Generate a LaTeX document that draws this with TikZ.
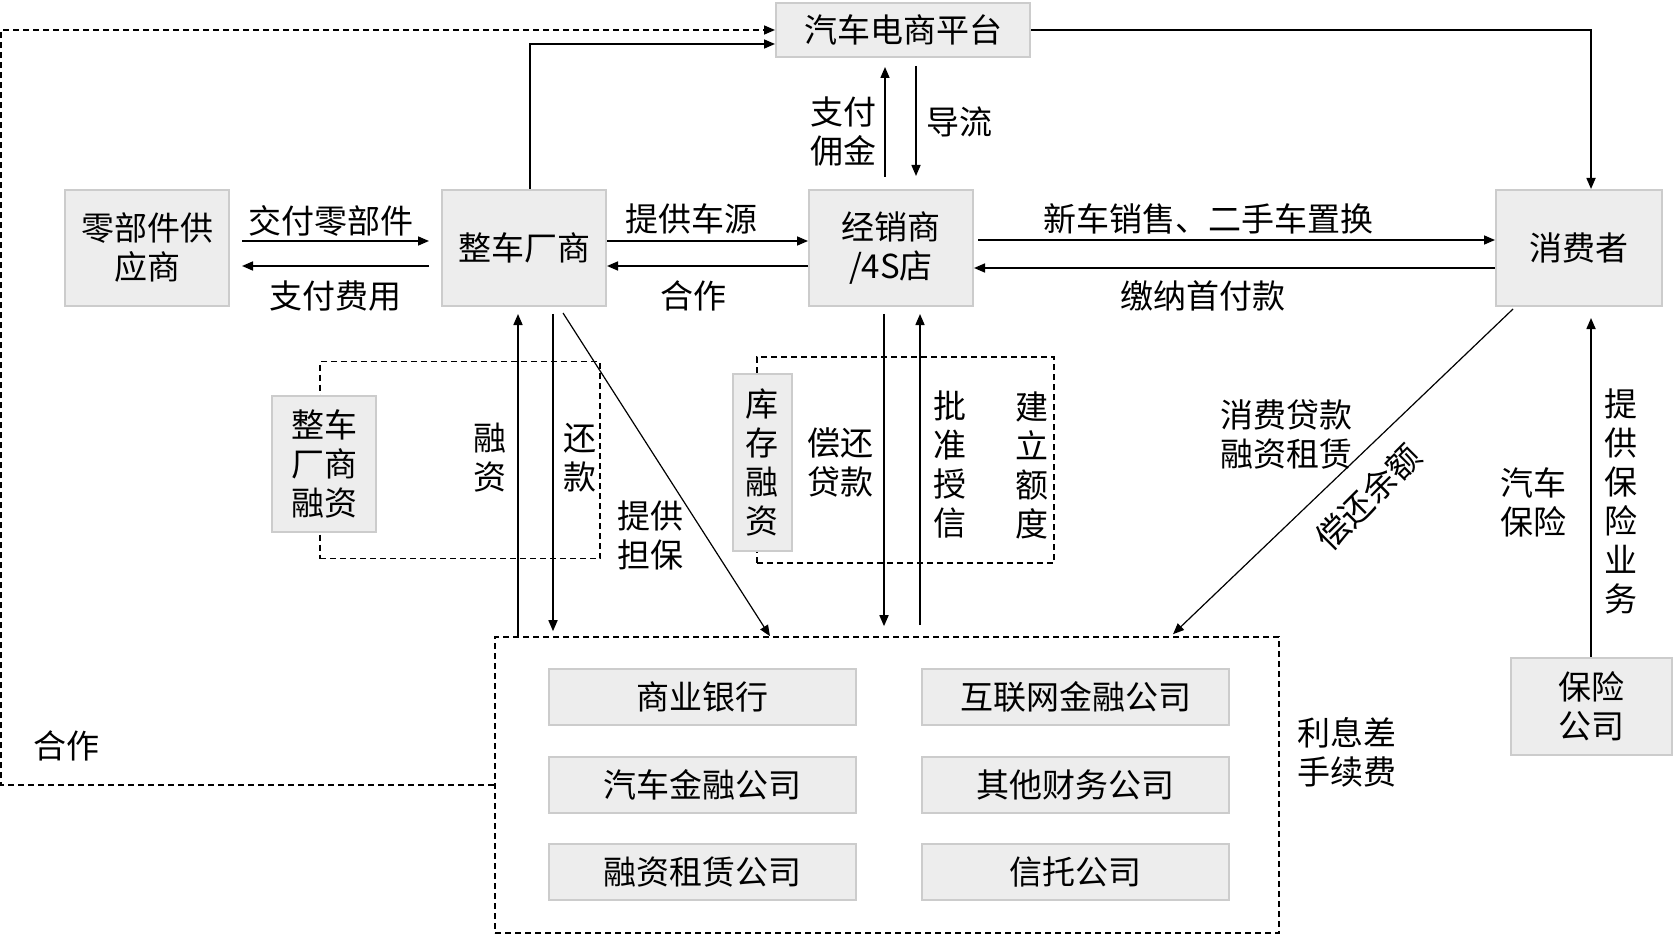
\documentclass[tikz,border=0pt]{standalone}
\usepackage{fontspec}
\setmainfont{Noto Sans CJK SC}
\usetikzlibrary{arrows.meta, positioning, calc}

\begin{document}
\begin{tikzpicture}[x=0.5pt, y=-0.5pt, line width=0.8pt,
    >={Triangle[length=5.5pt,width=4.5pt]},
    font=\fontsize{16.5pt}{19.5pt}\selectfont,
    box/.style={draw=black!20, line width=1pt, fill=black!7, inner sep=0pt, align=center},
    firm/.style={box, minimum width=153.5pt, minimum height=28pt},
    party/.style={box, minimum width=82pt, minimum height=58pt},
    dashbox/.style={draw, dashed, dash pattern=on 3pt off 2pt, inner sep=0pt},
    lbl/.style={inner sep=0pt, align=center}]
    \useasboundingbox (0,0) rectangle (1673,935);

    % Dashed groups (drawn first, boxes sit on their edges)
    \node[dashbox, minimum width=140pt, minimum height=98.5pt] (grp1) at (460,460) {};
    \node[dashbox, minimum width=148.5pt, minimum height=103pt] (grp2) at (905.5,460) {};
    \node[dashbox, minimum width=392pt, minimum height=148pt] (fin) at (887,785) {};

    % Main parties
    \node[box, minimum width=127pt, minimum height=27pt] (plat) at (903,30) {汽车电商平台};
    \node[party] (supp) at (147,248) {零部件供\\应商};
    \node[party] (oem) at (524,248) {整车厂商};
    \node[party] (dealer) at (891,248) {经销商\\/4S店};
    \node[party, minimum width=83pt] (cons) at (1579,248) {消费者};
    \node[box, minimum width=80.5pt, minimum height=48.5pt] (ins) at (1591,706) {保险\\公司};

    % Financing boxes
    \node[box, minimum width=52pt, minimum height=68pt] (oemfin) at (324,464) {整车\\厂商\\融资};
    \node[box, minimum width=29.5pt, minimum height=88.5pt] (invfin) at (762,462) {库\\存\\融\\资};

    % Lenders
    \node[firm] (bank) at (702.5,697) {商业银行};
    \node[firm] (web) at (1075.5,697) {互联网金融公司};
    \node[firm] (autofin) at (702.5,785) {汽车金融公司};
    \node[firm] (other) at (1075.5,785) {其他财务公司};
    \node[firm] (lease) at (702.5,872) {融资租赁公司};
    \node[firm] (trust) at (1075.5,872) {信托公司};

    % Horizontal flows
    \draw[->] ([xshift=6pt,yshift=3.5pt]supp.east) -- ([xshift=-6pt,yshift=3.5pt]oem.west);
    \draw[->] ([xshift=-6pt,yshift=-9pt]oem.west) -- ([xshift=6pt,yshift=-9pt]supp.east);
    \draw[->] ([yshift=3.5pt]oem.east) -- ([yshift=3.5pt]dealer.west);
    \draw[->] ([yshift=-9pt]dealer.west) -- ([yshift=-9pt]oem.east);
    \draw[->] ([xshift=2pt,yshift=4pt]dealer.east) -- ([yshift=4pt]cons.west);
    \draw[->] ([yshift=-10pt]cons.west) -- ([yshift=-10pt]dealer.east);

    % Platform links
    \draw[->] ([xshift=3pt]oem.north) |- ([yshift=-7pt]plat.west);
    \draw[->] (plat.east) -| ([xshift=6pt]cons.north);
    \draw[->, dashed, dash pattern=on 3pt off 2pt] (fin.west) -- ++(-493,0) |- (plat.west);
    \draw[->] ([xshift=-3pt,yshift=6pt]dealer.north) -- ([xshift=-3pt,yshift=-4.5pt]plat.south -| dealer.north);
    \draw[->] ([xshift=12.5pt,yshift=-4pt]plat.south -| dealer.north) -- ([xshift=12.5pt,yshift=6.5pt]dealer.north);

    % Links to lenders
    \draw[->] ([xshift=-3pt]oem.south |- fin.north) -- ([xshift=-3pt,yshift=-3.5pt]oem.south);
    \draw[->] ([xshift=14.5pt,yshift=-3.5pt]oem.south) -- ([xshift=14.5pt,yshift=2.5pt]oem.south |- fin.north);
    \draw[->, line width=0.6pt] ([xshift=19.5pt,yshift=-3pt]oem.south) -- ([xshift=-58.5pt]fin.north);
    \draw[->] ([xshift=-3.5pt,yshift=-3.5pt]dealer.south) -- ([xshift=-3.5pt,yshift=5pt]dealer.south |- fin.north);
    \draw[->] ([xshift=14.5pt,yshift=5.5pt]dealer.south |- fin.north) -- ([xshift=14.5pt,yshift=-3.5pt]dealer.south);
    \draw[->, line width=0.6pt] ([xshift=9pt,yshift=-1pt]cons.south west) -- ([xshift=143pt,yshift=1pt]fin.north);
    \draw[->] (ins.north) -- ([xshift=6pt,yshift=-5.5pt]cons.south);

    % Labels
    \node[lbl] (lparts) at (331,221) {交付零部件};
    \node[lbl] (lpay) at (335,296) {支付费用};
    \node[lbl] (lsrc) at (691,219) {提供车源};
    \node[lbl] (lcoop) at (693,296) {合作};
    \node[lbl] (lsale) at (1208,219) {新车销售、二手车置换};
    \node[lbl] (ldown) at (1203,296) {缴纳首付款};
    \node[lbl] (lcomm) at (843,132) {支付\\佣金};
    \node[lbl] (lguide) at (959,122) {导流};
    \node[lbl] (lfin) at (490,458) {融\\资};
    \node[lbl] (lrepay) at (580,458) {还\\款};
    \node[lbl] (lguar) at (650,535) {提供\\担保};
    \node[lbl] (lloan) at (840,462) {偿还\\贷款};
    \node[lbl] (lcredit) at (950,465) {批\\准\\授\\信};
    \node[lbl] (lquota) at (1032,465) {建\\立\\额\\度};
    \node[lbl] (lcons) at (1286,434) {消费贷款\\融资租赁};
    \node[lbl, rotate=45] (lbal) at (1368,497) {偿还余额};
    \node[lbl] (lins) at (1533,502) {汽车\\保险};
    \node[lbl] (linsb) at (1621,501) {提\\供\\保\\险\\业\\务};
    \node[lbl] (lfee) at (1347,752) {利息差\\手续费};
    \node[lbl] (lcoop2) at (66,746) {合作};
\end{tikzpicture}
\end{document}
